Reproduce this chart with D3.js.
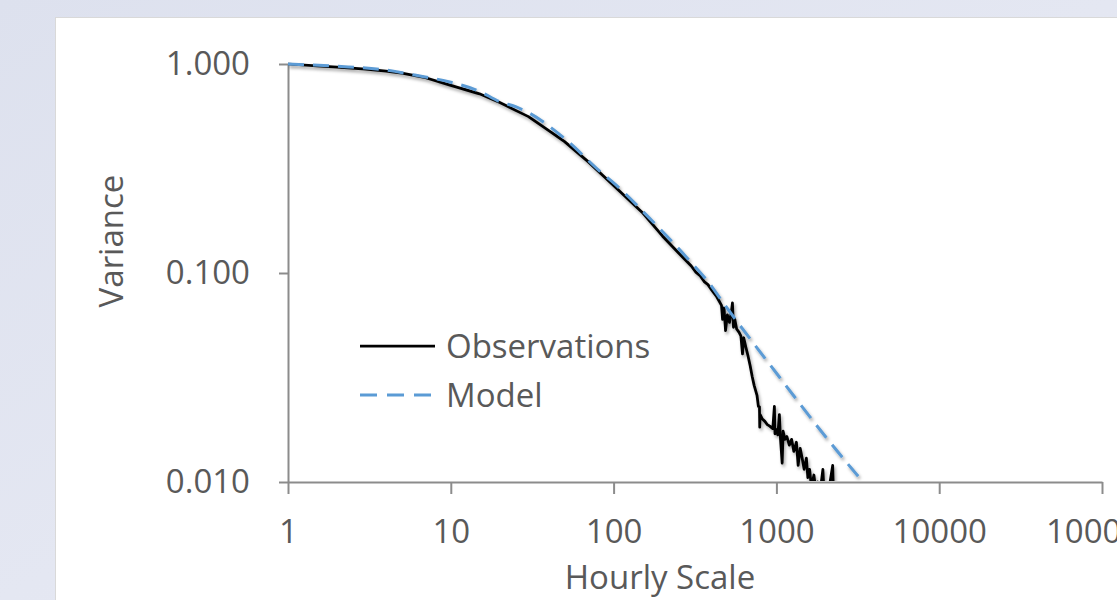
<!DOCTYPE html>
<html>
<head>
<meta charset="utf-8">
<script src="https://cdn.jsdelivr.net/npm/d3@7"></script>
<style>
  html, body { margin: 0; padding: 0; }
  body { width: 1117px; height: 600px; overflow: hidden; }
  svg text { font-family: "Open Sans", sans-serif; fill: #595959; }
</style>
</head>
<body>
<svg id="chart" width="1117" height="600"></svg>
<script>
// ---------- data ----------
const xTickValues = [1, 10, 100, 1000, 10000, 100000];
const xTickLabels = ["1", "10", "100", "1000", "10000", "100000"];
const yTickValues = [0.01, 0.1, 1];
const yTickLabels = ["0.010", "0.100", "1.000"];

const seriesNames = ["Observations", "Model"];

const obsScale = [1, 1.5, 2, 3, 4, 5, 7, 10, 15, 20, 25, 30, 40, 50, 70, 100, 150, 200, 250, 300,
  320, 340, 360, 380, 400, 430, 460, 467, 477, 487, 500, 515, 530, 537, 545, 555, 570, 590, 605, 619,
  630, 650, 670, 690, 710, 730, 760, 775, 787, 790, 795, 820, 850, 880, 910, 950, 972, 980, 1000, 1020,
  1043, 1060, 1085, 1100, 1130, 1160, 1200, 1240, 1280, 1327, 1360, 1400, 1440, 1480, 1528, 1560, 1600,
  1640, 1700, 1750, 1800, 1850, 1930, 1960, 2100, 2217, 2240];
const obsVariance = [1.0, 0.98, 0.965, 0.945, 0.925, 0.905, 0.86, 0.79, 0.72, 0.655, 0.60, 0.56, 0.48, 0.425, 0.34, 0.262, 0.195, 0.15, 0.125, 0.108,
  0.101, 0.097, 0.091, 0.088, 0.083, 0.077, 0.070, 0.060, 0.068, 0.053, 0.063, 0.058, 0.066, 0.072, 0.055, 0.060, 0.054, 0.052, 0.050, 0.041,
  0.049, 0.044, 0.040, 0.036, 0.032, 0.029, 0.026, 0.023, 0.0229, 0.0183, 0.021, 0.020, 0.0195, 0.0188, 0.0185, 0.018, 0.023, 0.017, 0.0178, 0.0168,
  0.021, 0.016, 0.0123, 0.0175, 0.016, 0.0165, 0.015, 0.016, 0.014, 0.0155, 0.012, 0.0145, 0.013, 0.0115, 0.013, 0.0105, 0.0115,
  0.0095, 0.0108, 0.009, 0.010, 0.0088, 0.0115, 0.009, 0.0092, 0.012, 0.009];

const modelScale = [1, 2, 4, 6, 10, 15, 20, 25, 30, 50, 85, 100, 166, 280, 400, 450, 1043, 2000, 3400];
const modelVariance = [1.0, 0.975, 0.935, 0.885, 0.818, 0.74, 0.66, 0.625, 0.585, 0.44, 0.30, 0.27, 0.183, 0.119, 0.0863, 0.0758, 0.0318, 0.0165, 0.0100];

// ---------- setup ----------
const svg = d3.select("#chart");
const defs = svg.append("defs");

const bg = defs.append("linearGradient").attr("id", "bg").attr("x1", "0").attr("y1", "0").attr("x2", "1").attr("y2", "1");
bg.append("stop").attr("offset", "0%").attr("stop-color", "#dde1ee");
bg.append("stop").attr("offset", "50%").attr("stop-color", "#e4e7f2");
bg.append("stop").attr("offset", "100%").attr("stop-color", "#e9ecf5");

const shadow = defs.append("filter").attr("id", "shadow")
  .attr("x", "-5%").attr("y", "-5%").attr("width", "110%").attr("height", "120%");
shadow.append("feDropShadow").attr("dx", 1.5).attr("dy", 2.5).attr("stdDeviation", 1.8)
  .attr("flood-color", "#000").attr("flood-opacity", 0.35);

defs.append("clipPath").attr("id", "plotClip")
  .append("rect").attr("x", 288).attr("y", 40).attr("width", 820).attr("height", 441);

svg.append("rect").attr("width", 1117).attr("height", 600).attr("fill", "url(#bg)");
svg.append("rect").attr("x", 55.5).attr("y", 17.5).attr("width", 1100).attr("height", 620)
  .attr("fill", "#ffffff").attr("stroke", "#d9d9d9").attr("stroke-width", 1);

const x = d3.scaleLog().domain([1, 100000]).range([288, 1102]);
const y = d3.scaleLog().domain([0.01, 1]).range([482, 64]);

const axisColor = "#8c8c8c";
const fs = 33;

// x axis
const xAxis = svg.append("g").attr("transform", "translate(0,482)")
  .call(d3.axisBottom(x).tickValues(xTickValues)
    .tickFormat((d, i) => xTickLabels[i]).tickSize(12).tickSizeOuter(0).tickPadding(26));
xAxis.select(".domain").attr("stroke", axisColor).attr("stroke-width", 2);
xAxis.selectAll(".tick line").attr("stroke", axisColor).attr("stroke-width", 2);
xAxis.selectAll(".tick text").attr("font-size", fs).attr("fill", "#595959")
  .style("font-family", "'Open Sans', sans-serif");

// y axis
const yAxis = svg.append("g").attr("transform", "translate(288,0)")
  .call(d3.axisLeft(y).tickValues(yTickValues)
    .tickFormat((d, i) => yTickLabels[i]).tickSize(9).tickSizeOuter(0).tickPadding(29));
yAxis.select(".domain").attr("stroke", axisColor).attr("stroke-width", 2);
yAxis.selectAll(".tick line").attr("stroke", axisColor).attr("stroke-width", 2);
yAxis.selectAll(".tick text").attr("font-size", fs).attr("fill", "#595959")
  .style("font-family", "'Open Sans', sans-serif");

// axis titles
svg.append("text").attr("x", 660).attr("y", 589).attr("text-anchor", "middle")
  .attr("font-size", fs).text("Hourly Scale");
svg.append("text").attr("transform", "translate(123,241) rotate(-90)").attr("text-anchor", "middle")
  .attr("font-size", fs).text("Variance");

// series
const line = d3.line().x(d => x(d[0])).y(d => y(d[1]));
const obsData = obsScale.map((s, i) => [s, obsVariance[i]]);
const modelData = modelScale.map((s, i) => [s, modelVariance[i]]);

const plot = svg.append("g").attr("clip-path", "url(#plotClip)");
const series = plot.append("g").attr("filter", "url(#shadow)");
series.append("path").datum(obsData).attr("d", line.curve(d3.curveLinear))
  .attr("fill", "none").attr("stroke", "#000000").attr("stroke-width", 2.75).attr("stroke-linejoin", "round");
series.append("path").datum(modelData).attr("d", d3.line().x(d => x(d[0])).y(d => y(d[1])).curve(d3.curveMonotoneX))
  .attr("fill", "none").attr("stroke", "#5b9bd5").attr("stroke-width", 3).attr("stroke-dasharray", "16,9");

// legend
const legend = svg.append("g");
const legendStyles = [
  { color: "#000000", dash: null, width: 2.75 },
  { color: "#5b9bd5", dash: "17,10", width: 3 }
];
seriesNames.forEach((name, i) => {
  const cy = 346 + i * 49;
  legend.append("line").attr("x1", 360).attr("x2", 435).attr("y1", cy).attr("y2", cy)
    .attr("stroke", legendStyles[i].color).attr("stroke-width", legendStyles[i].width)
    .attr("stroke-dasharray", legendStyles[i].dash);
  legend.append("text").attr("x", 446).attr("y", cy + 12).attr("font-size", fs).text(name);
});
</script>
</body>
</html>
